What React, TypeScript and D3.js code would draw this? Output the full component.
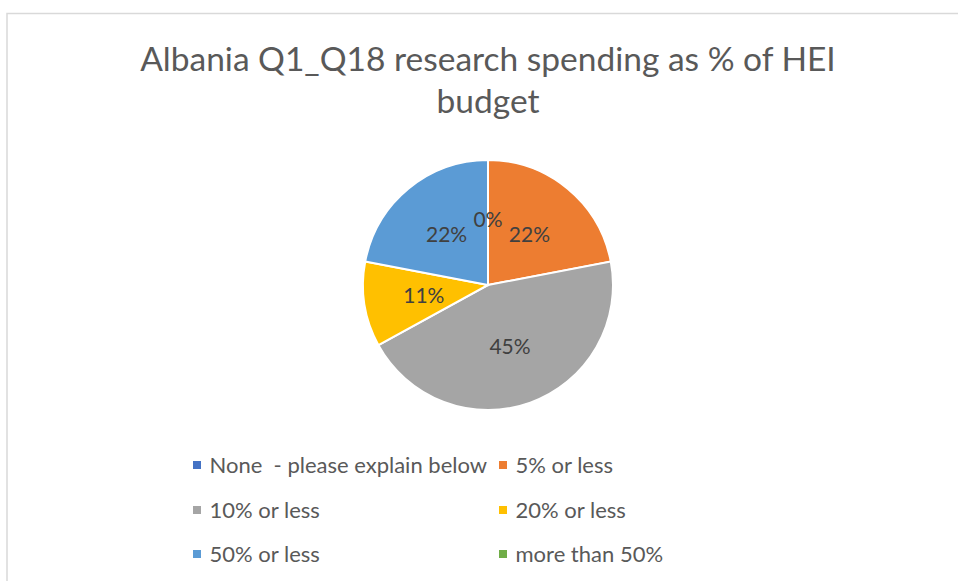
import React from "react";
import * as d3 from "d3";

const categories = [
  "None  - please explain below",
  "5% or less",
  "10% or less",
  "20% or less",
  "50% or less",
  "more than 50%",
];
const values = [0, 0.22, 0.45, 0.11, 0.22, 0];
const colors = ["#4472C4", "#ED7D31", "#A5A5A5", "#FFC000", "#5B9BD5", "#70AD47"];
const titleLines = ["Albania Q1_Q18 research spending as % of HEI", "budget"];

const W = 958;
const H = 581;
const FONT = "Lato, 'Open Sans', sans-serif";

export default function App() {
  const cx = 488;
  const cy = 285;
  const R = 125;
  const data = categories.map((c, i) => ({ c, v: values[i], color: colors[i] }));
  const pie = d3.pie<any>().value((d) => d.v).sort(null);
  const arcs = pie(data);
  const arc = d3.arc<any>().innerRadius(0).outerRadius(R);
  const labelArc = d3.arc<any>().innerRadius(R * 0.52).outerRadius(R * 0.52);
  const fmt = d3.format(".0%");

  const legendCols = [197, 503];
  const legendRows = [465, 510, 554];

  return (
    <svg
      width={W}
      height={H}
      style={{ position: "absolute", left: 0, top: 0, background: "#fff" }}
    >
      <rect x={0} y={0} width={W} height={H} fill="#fff" />
      <path d={`M7,${H} V13.5 H${W}`} fill="none" stroke="#d9d9d9" strokeWidth={1.5} />
      {titleLines.map((t, i) => (
        <text
          key={i}
          x={488}
          y={71 + i * 42}
          textAnchor="middle"
          fontFamily={FONT}
          fontSize={33.5}
          fill="#595959"
        >
          {t}
        </text>
      ))}
      <g transform={`translate(${cx},${cy})`}>
        {arcs.map((a, i) => (
          <path key={i} d={arc(a) || ""} fill={a.data.color} stroke="#fff" strokeWidth={2} />
        ))}
        {arcs.map((a, i) =>
          a.data.v > 0 || i === 0 ? (
            <text
              key={"l" + i}
              transform={`translate(${labelArc.centroid(a)})`}
              textAnchor="middle"
              dy="0.35em"
              fontFamily={FONT}
              fontSize={21}
              fill="#404040"
            >
              {fmt(a.data.v)}
            </text>
          ) : null
        )}
      </g>
      {data.map((d, i) => {
        const x = legendCols[i % 2];
        const y = legendRows[Math.floor(i / 2)];
        return (
          <g key={"lg" + i}>
            <rect x={x - 4} y={y - 4} width={8} height={8} fill={d.color} />
            <text
              x={x + 12.5}
              y={y}
              dy="0.35em"
              fontFamily={FONT}
              fontSize={22}
              fill="#595959"
              style={{ whiteSpace: "pre" }}
            >
              {d.c}
            </text>
          </g>
        );
      })}
    </svg>
  );
}
